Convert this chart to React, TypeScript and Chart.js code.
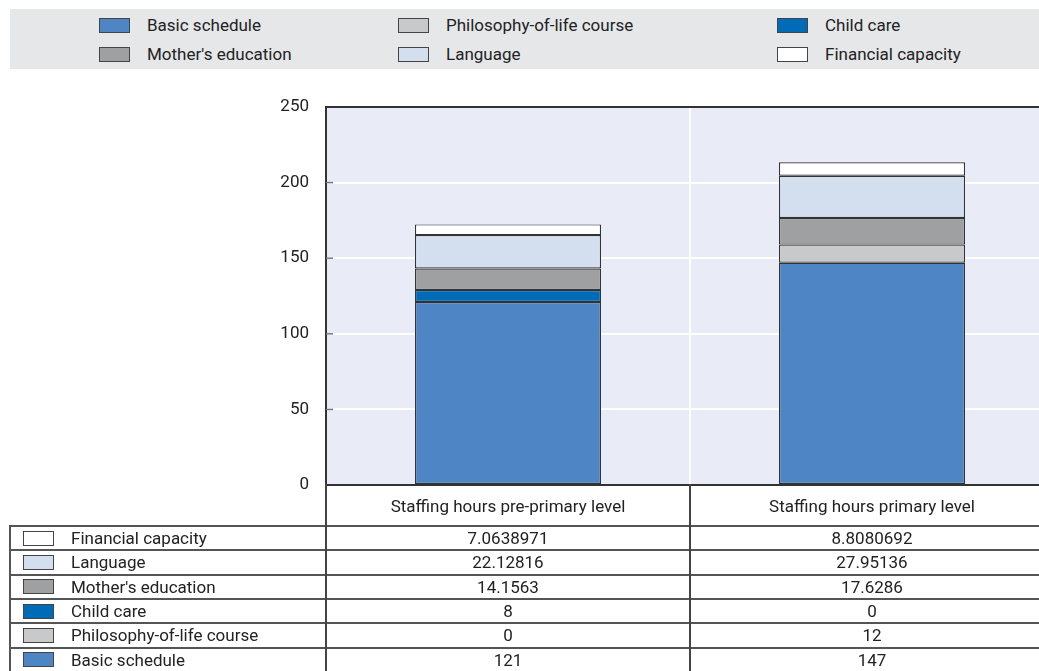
import React, { useEffect, useRef } from 'react';
import { Chart, registerables } from 'chart.js';

Chart.register(...registerables);

const FONT = 'Roboto, "Liberation Sans", sans-serif';
const FONT_SIZE = 17;
const TEXT = '#222222';

const categories = ['Staffing hours pre-primary level', 'Staffing hours primary level'];
const seriesLabels = ['Basic schedule', 'Philosophy-of-life course', 'Child care', "Mother's education", 'Language', 'Financial capacity'];
const basicSchedule = [121, 147];
const philosophyCourse = [0, 12];
const childCare = [8, 0];
const mothersEducation = [14.1563, 17.6286];
const language = [22.12816, 27.95136];
const financialCapacity = [7.0638971, 8.8080692];
const seriesColors = ['#4e86c5', '#c8c9cb', '#006bb6', '#9fa0a2', '#d3deef', '#ffffff'];
const yTicks = [0, 50, 100, 150, 200, 250];

const seriesData = [basicSchedule, philosophyCourse, childCare, mothersEducation, language, financialCapacity];

// legend layout: row-major, 3 columns
const legendOrder = [0, 1, 2, 3, 4, 5];
const legendCols = [99, 398, 777];
const legendRows = [25, 54];

// table rows: top to bottom (reverse of stack)
const tableOrder = [5, 4, 3, 2, 1, 0];
const TABLE_TOP = 526;
const ROW_H = 24.3;

function Swatch({ color, left, top }: { color: string; left: number; top: number }) {
  return (
    <div
      style={{
        position: 'absolute',
        left,
        top,
        width: 31,
        height: 15,
        boxSizing: 'border-box',
        background: color,
        border: '1.5px solid #444',
      }}
    />
  );
}

export default function App() {
  const ref = useRef<HTMLCanvasElement>(null);

  useEffect(() => {
    const canvas = ref.current!;
    const plotPlugin = {
      id: 'plotDecor',
      beforeDraw(chart: any) {
        const { ctx, chartArea: a } = chart;
        ctx.save();
        ctx.fillStyle = '#e9ecf6';
        ctx.fillRect(a.left, a.top, a.right - a.left, a.bottom - a.top);
        ctx.restore();
      },
      afterDraw(chart: any) {
        const { ctx, chartArea: a, scales } = chart;
        ctx.save();
        ctx.strokeStyle = '#333333';
        ctx.lineWidth = 2;
        ctx.beginPath();
        ctx.moveTo(a.left - 1, a.top);
        ctx.lineTo(a.right, a.top);
        ctx.stroke();
        ctx.strokeStyle = '#777777';
        ctx.lineWidth = 1.5;
        scales.y.ticks.forEach((t: any) => {
          if (t.value <= 0 || t.value >= 250) return;
          const y = scales.y.getPixelForValue(t.value);
          ctx.beginPath();
          ctx.moveTo(a.left, y);
          ctx.lineTo(a.left + 7, y);
          ctx.stroke();
        });
        ctx.restore();
      },
    };

    const chart = new Chart(canvas, {
      type: 'bar',
      data: {
        labels: categories,
        datasets: seriesLabels.map((label, i) => ({
          label,
          data: seriesData[i],
          backgroundColor: seriesColors[i],
          borderColor: '#333333',
          borderWidth: 1.2,
          borderSkipped: false,
          categoryPercentage: 1,
          barPercentage: 0.511,
        })),
      },
      options: {
        animation: false,
        responsive: false,
        maintainAspectRatio: false,
        layout: { padding: { top: 10, left: 0, right: 0, bottom: 0 } },
        plugins: { legend: { display: false }, tooltip: { enabled: false } },
        scales: {
          x: {
            stacked: true,
            offset: true,
            grid: {
              offset: true,
              drawTicks: false,
              lineWidth: 2,
              color: (c: any) => (c.index === 1 ? '#ffffff' : 'rgba(0,0,0,0)'),
            },
            border: { display: true, color: '#333333', width: 2 },
            ticks: {
              font: { family: FONT, size: FONT_SIZE },
              color: TEXT,
              padding: 13,
              maxRotation: 0,
              autoSkip: false,
            },
            afterFit: (s: any) => {
              s.height = 41;
            },
          },
          y: {
            stacked: true,
            min: 0,
            max: 250,
            afterBuildTicks: (s: any) => {
              s.ticks = yTicks.map((v) => ({ value: v }));
            },
            grid: {
              drawTicks: false,
              lineWidth: 2,
              color: (c: any) =>
                c.tick && c.tick.value > 0 && c.tick.value < 250 ? '#ffffff' : 'rgba(0,0,0,0)',
            },
            border: { display: true, color: '#333333', width: 2 },
            ticks: {
              font: { family: FONT, size: FONT_SIZE },
              color: TEXT,
              padding: 17,
            },
            afterFit: (s: any) => {
              s.width = 326;
              s.paddingTop = 0;
              s.paddingBottom = 0;
            },
          },
        },
      },
      plugins: [plotPlugin],
    } as any);
    return () => chart.destroy();
  }, []);

  const textStyle: React.CSSProperties = {
    position: 'absolute',
    fontFamily: FONT,
    fontSize: FONT_SIZE,
    color: TEXT,
    whiteSpace: 'nowrap',
    lineHeight: '20px',
  };

  const hLines = [0, 1, 2, 3, 4, 5].map((i) => Math.round(TABLE_TOP + i * ROW_H));

  return (
    <div
      style={{
        position: 'absolute',
        left: 0,
        top: 0,
        width: 1039,
        height: 671,
        overflow: 'hidden',
        background: '#ffffff',
      }}
    >
      {/* legend */}
      <div style={{ position: 'absolute', left: 10, top: 9, width: 1029, height: 60, background: '#e6e7e9' }} />
      {legendOrder.map((si, k) => {
        const col = k % 3;
        const row = Math.floor(k / 3);
        const cy = legendRows[row];
        return (
          <React.Fragment key={si}>
            <Swatch color={seriesColors[si]} left={legendCols[col]} top={cy - 7.5} />
            <div style={{ ...textStyle, left: legendCols[col] + 48, top: cy - 10 }}>{seriesLabels[si]}</div>
          </React.Fragment>
        );
      })}

      {/* chart */}
      <canvas
        ref={ref}
        width={1054}
        height={429}
        style={{ position: 'absolute', left: 0, top: 97, width: 1054, height: 429 }}
      />

      {/* table lines */}
      {hLines.map((y, i) => (
        <div
          key={'h' + i}
          style={{ position: 'absolute', left: 10, top: y - 1, width: 1044, height: 2, background: '#555555' }}
        />
      ))}
      <div style={{ position: 'absolute', left: 9, top: TABLE_TOP - 1, width: 2, height: 160, background: '#555555' }} />
      <div style={{ position: 'absolute', left: 325, top: 484, width: 2, height: 200, background: '#444444' }} />
      <div style={{ position: 'absolute', left: 689, top: 484, width: 2, height: 200, background: '#444444' }} />

      {/* table rows */}
      {tableOrder.map((si, r) => {
        const top = TABLE_TOP + r * ROW_H;
        const cy = top + ROW_H / 2;
        return (
          <React.Fragment key={'r' + si}>
            <Swatch color={seriesColors[si]} left={23} top={cy - 7.5} />
            <div style={{ ...textStyle, left: 71, top: cy - 10 }}>{seriesLabels[si]}</div>
            <div style={{ ...textStyle, left: 326, width: 364, textAlign: 'center', top: cy - 10 }}>
              {String(seriesData[si][0])}
            </div>
            <div style={{ ...textStyle, left: 690, width: 364, textAlign: 'center', top: cy - 10 }}>
              {String(seriesData[si][1])}
            </div>
          </React.Fragment>
        );
      })}
    </div>
  );
}
